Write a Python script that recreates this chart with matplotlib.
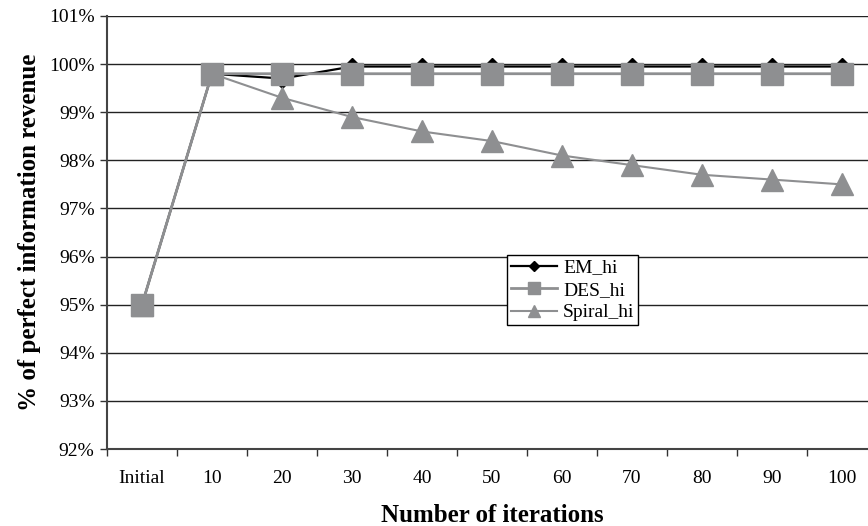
import matplotlib.pyplot as plt
from matplotlib.ticker import FuncFormatter, FixedLocator

categories = ["Initial", "10", "20", "30", "40", "50", "60", "70", "80", "90", "100"]
em_hi = [95.0, 99.8, 99.7, 99.95, 99.95, 99.95, 99.95, 99.95, 99.95, 99.95, 99.95]
des_hi = [95.0, 99.8, 99.8, 99.8, 99.8, 99.8, 99.8, 99.8, 99.8, 99.8, 99.8]
spiral_hi = [95.0, 99.8, 99.3, 98.9, 98.6, 98.4, 98.1, 97.9, 97.7, 97.6, 97.5]
y_ticks = [92, 93, 94, 95, 96, 97, 98, 99, 100, 101]

plt.rcParams['font.family'] = ['Liberation Serif', 'DejaVu Serif']

fig = plt.figure(figsize=(8.68, 5.26), dpi=100)
ax = fig.add_axes([107 / 868, 1 - 449 / 526, 770 / 868, 433 / 526])

x = list(range(len(categories)))
gray = '#8e8f91'

ax.plot(x, em_hi, color='black', linewidth=1.6, marker='D', markersize=9,
        markerfacecolor='black', markeredgecolor='black', label='EM_hi', zorder=3)
ax.plot(x, des_hi, color=gray, linewidth=2.0, marker='s', markersize=16.5,
        markerfacecolor=gray, markeredgecolor=gray, label='DES_hi', zorder=4)
ax.plot(x, spiral_hi, color=gray, linewidth=1.5, marker='^', markersize=16.5,
        markerfacecolor=gray, markeredgecolor=gray, label='Spiral_hi', zorder=5)

ax.set_xlim(-0.5, len(categories) - 0.5)
ax.set_ylim(92, 101)
ax.set_yticks(y_ticks)
ax.yaxis.set_major_formatter(FuncFormatter(lambda v, p: f"{v:.0f}%"))
ax.grid(axis='y', color='#222222', linewidth=1.0, zorder=1)

ax.set_xticks(x)
ax.set_xticklabels(categories)
ax.xaxis.set_minor_locator(FixedLocator([i - 0.5 for i in range(len(categories) + 1)]))
ax.tick_params(axis='x', which='major', length=0, pad=15, labelsize=14)
ax.tick_params(axis='x', which='minor', length=5, width=1, color='#333333', direction='out')
ax.tick_params(axis='y', length=5, width=1, color='#333333', direction='out', pad=4, labelsize=14)

for s in ['top', 'right']:
    ax.spines[s].set_visible(False)
ax.spines['left'].set_color('#444444')
ax.spines['left'].set_linewidth(1.5)
ax.spines['bottom'].set_color('#444444')
ax.spines['bottom'].set_linewidth(1.5)

ax.set_xlabel("Number of iterations", fontsize=18, fontweight='bold', labelpad=12)
ax.set_ylabel("% of perfect information revenue", fontsize=18, fontweight='bold', labelpad=6)

leg = ax.legend(loc='upper left', bbox_to_anchor=(0.519, 0.448), borderaxespad=0,
                fancybox=False, edgecolor='black', fontsize=14, handlelength=2.4,
                handletextpad=0.3, markerscale=0.55, framealpha=1, borderpad=0.2,
                labelspacing=0.25)
leg.get_frame().set_linewidth(1.0)

fig.savefig("out.png", dpi=100)
